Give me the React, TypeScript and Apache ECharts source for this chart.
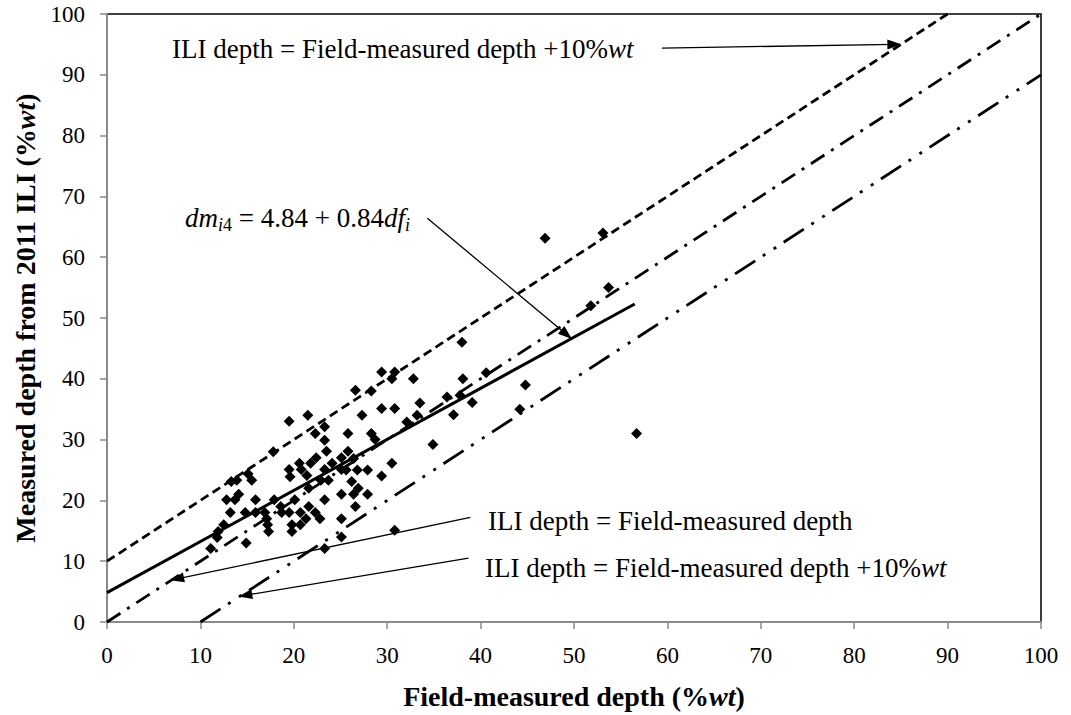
import React, { useEffect, useRef } from "react";
import * as echarts from "echarts";

// Field-measured depth (%wt) and ILI depth (%wt) for each anomaly
const fieldDepth = [
  29.4, 30.8, 30.5, 32.8, 26.6, 28.3, 33.5, 29.4, 30.8, 27.3,
  21.5, 19.5, 33.2, 32.1, 23.3, 22.3, 25.8, 28.3, 28.7, 23.3,
  23.5, 25.8, 22.4, 25.1, 20.6, 21.8, 24.1, 26.4, 19.5, 20.8,
  23.3, 25.1, 25.6, 26.8, 27.9, 30.5, 19.6, 21.4, 22.9, 23.7,
  29.4, 26.2, 26.9, 21.6, 26.4, 25.1, 27.9, 14.1, 12.8, 13.7,
  15.9, 17.9, 20.1, 23.3, 18.6, 21.6, 26.6, 13.2, 14.8, 15.9,
  16.9, 18.7, 19.5, 20.7, 22.3, 21.3, 22.8, 25.1, 17.1, 17.2,
  19.8, 20.7, 17.3, 19.8, 12.5, 11.9, 11.8, 14.9, 11.1, 23.3,
  25.1, 30.8, 13.3, 13.9, 15.1, 15.5, 17.8, 38.0, 53.7, 51.8,
  40.6, 38.1, 36.4, 37.8, 39.1, 44.8, 44.2, 37.1, 56.7, 34.9,
  46.9, 53.1,
];
const iliDepth = [
  41.1, 41.1, 40.0, 40.0, 38.1, 38.0, 36.0, 35.1, 35.1, 34.0,
  34.0, 33.0, 34.0, 32.9, 32.1, 31.0, 31.0, 31.0, 30.0, 29.9,
  28.1, 28.1, 27.0, 27.0, 26.1, 26.1, 26.1, 26.9, 25.1, 25.1,
  25.1, 25.1, 25.0, 25.0, 25.0, 26.1, 23.9, 24.1, 23.3, 23.3,
  24.0, 23.1, 22.0, 22.0, 21.0, 21.0, 21.0, 21.0, 20.1, 20.1,
  20.1, 20.1, 20.1, 20.1, 19.0, 19.0, 19.0, 18.0, 18.0, 18.0,
  18.0, 18.0, 18.0, 18.0, 18.0, 17.0, 17.0, 17.0, 17.0, 16.0,
  16.0, 16.0, 14.9, 14.9, 16.0, 14.9, 13.9, 13.0, 12.1, 12.1,
  14.0, 15.1, 23.1, 23.3, 24.4, 23.3, 28.0, 46.0, 55.0, 52.0,
  41.0, 40.0, 37.0, 37.3, 36.1, 39.0, 35.0, 34.1, 31.0, 29.2,
  63.1, 64.0,
];

// Reference lines (end points, in %wt)
const plusTenLine = [[0, 10], [90, 100]];
const equalLine = [[0, 0], [100, 100]];
const minusTenLine = [[10, 0], [100, 90]];
const regressionLine = [[0, 4.84], [56.5, 52.3]];

// Annotation arrows (start, tip) in %wt
const arrowPlusTen = [[59.4, 94.4], [84.3, 95.0]];
const arrowRegression = [[34.3, 66.4], [49.2, 47.3]];
const arrowEqual = [[38.9, 17.2], [7.5, 7.1]];
const arrowMinusTen = [[38.7, 10.5], [14.8, 4.4]];

const AXIS_MIN = 0;
const AXIS_MAX = 100;
const AXIS_STEP = 10;

const FONT = "'Liberation Serif', 'Times New Roman', serif";

export default function App() {
  const ref = useRef<HTMLDivElement>(null);

  useEffect(() => {
    if (!ref.current) return;
    const chart = echarts.init(ref.current, null, { renderer: "svg" });

    const points = fieldDepth.map((x, i) => [x, iliDepth[i]]);
    const arrowStyle = { color: "#000", width: 1.3, type: "solid" as const, opacity: 1 };
    const mkArrow = (a: number[][]) => [{ coord: a[0] }, { coord: a[1] }];

    const axisCommon = {
      type: "value" as const,
      min: AXIS_MIN,
      max: AXIS_MAX,
      interval: AXIS_STEP,
      splitLine: { show: false },
      axisLine: { show: true, lineStyle: { color: "#8a8a8a", width: 2 } },
      axisTick: { show: true, inside: false, length: 7, lineStyle: { color: "#8a8a8a", width: 1.5 } },
      axisLabel: { color: "#000", fontFamily: FONT, fontSize: 23, margin: 22 },
      nameLocation: "middle" as const,
    };

    const nameStyle = {
      fontFamily: FONT,
      fontSize: 28,
      fontWeight: "bold",
      color: "#000",
      rich: {
        bi: { fontFamily: FONT, fontSize: 28, fontWeight: "bold", fontStyle: "italic", color: "#000" },
      },
    };

    const textRich = {
      it: { fontFamily: FONT, fontSize: 27, fontStyle: "italic", fill: "#000" },
    };

    chart.setOption({
      animation: false,
      backgroundColor: "#fff",
      grid: {
        left: 107,
        right: 30,
        top: 14,
        bottom: 91,
        containLabel: false,
        show: true,
        borderColor: "#000",
        borderWidth: 1.5,
      },
      xAxis: {
        ...axisCommon,
        name: "Field-measured depth (%{bi|wt})",
        nameGap: 60,
        nameTextStyle: nameStyle,
      },
      yAxis: {
        ...axisCommon,
        name: "Measured depth from 2011 ILI (%{bi|wt})",
        nameGap: 63,
        nameTextStyle: nameStyle,
      },
      series: [
        {
          type: "line",
          data: plusTenLine,
          showSymbol: false,
          symbol: "none",
          lineStyle: { color: "#000", width: 2.8, type: [9, 5] },
          z: 2,
        },
        {
          type: "line",
          data: equalLine,
          showSymbol: false,
          symbol: "none",
          lineStyle: { color: "#000", width: 2.8, type: [16, 8, 3, 8] },
          z: 2,
        },
        {
          type: "line",
          data: minusTenLine,
          showSymbol: false,
          symbol: "none",
          lineStyle: { color: "#000", width: 2.8, type: [24, 9, 3, 10, 3, 9] },
          z: 2,
        },
        {
          type: "line",
          data: regressionLine,
          showSymbol: false,
          symbol: "none",
          lineStyle: { color: "#000", width: 3, type: "solid" },
          z: 3,
        },
        {
          type: "scatter",
          data: points,
          symbol: "diamond",
          symbolSize: 11,
          itemStyle: { color: "#000", opacity: 1 },
          z: 4,
          markLine: {
            silent: true,
            symbol: ["none", "triangle"],
            symbolSize: [10, 14],
            label: { show: false },
            lineStyle: arrowStyle,
            itemStyle: { color: "#000" },
            data: [
              mkArrow(arrowPlusTen),
              mkArrow(arrowRegression),
              mkArrow(arrowEqual),
              mkArrow(arrowMinusTen),
            ],
          },
        },
      ],
      graphic: [
        {
          type: "text",
          x: 172,
          y: 49,
          style: {
            text: "ILI depth = Field-measured depth +10%{it|wt}",
            fontFamily: FONT,
            fontSize: 27,
            fill: "#000",
            verticalAlign: "middle",
            rich: textRich,
          },
        },
        {
          type: "text",
          x: 185,
          y: 218,
          style: {
            text: "{it|dm}{sub|i}{subn|4} = 4.84 + 0.84{it|df}{sub|i}",
            fontFamily: FONT,
            fontSize: 27,
            fill: "#000",
            verticalAlign: "middle",
            rich: {
              it: { fontFamily: FONT, fontSize: 27, fontStyle: "italic", fill: "#000" },
              sub: { fontFamily: FONT, fontSize: 18, fontStyle: "italic", fill: "#000", padding: [14, 0, 0, 0] },
              subn: { fontFamily: FONT, fontSize: 18, fill: "#000", padding: [14, 0, 0, 0] },
            },
          },
        },
        {
          type: "text",
          x: 488,
          y: 521,
          style: {
            text: "ILI depth = Field-measured depth",
            fontFamily: FONT,
            fontSize: 27,
            fill: "#000",
            verticalAlign: "middle",
          },
        },
        {
          type: "text",
          x: 485,
          y: 568,
          style: {
            text: "ILI depth = Field-measured depth +10%{it|wt}",
            fontFamily: FONT,
            fontSize: 27,
            fill: "#000",
            verticalAlign: "middle",
            rich: textRich,
          },
        },
      ],
    });

    return () => chart.dispose();
  }, []);

  return (
    <div
      ref={ref}
      style={{ position: "fixed", left: 0, top: 0, width: 1071, height: 715, background: "#fff" }}
    />
  );
}
